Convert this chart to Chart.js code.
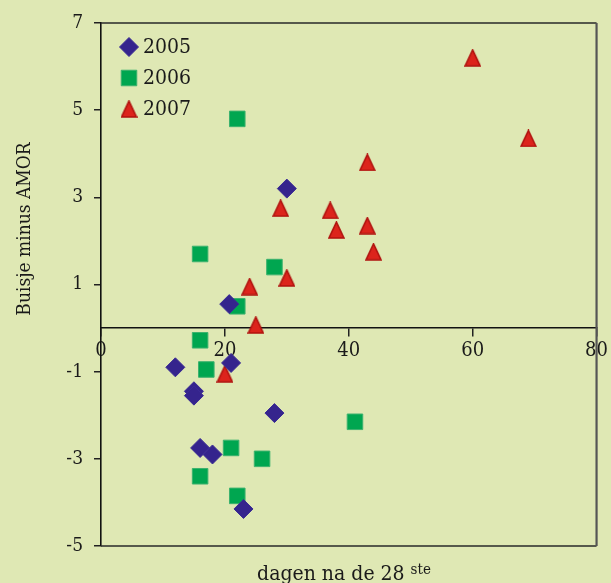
<!DOCTYPE html>
<html>
<head>
<meta charset="utf-8">
<script src="https://cdn.jsdelivr.net/npm/chart.js@4"></script>
<style>
    html, body { margin: 0; padding: 0; background: #dfe8b4; }
    #wrap { width: 611px; height: 583px; }
</style>
</head>
<body>
<div id="wrap"><canvas id="scatterChart" width="611" height="583"></canvas></div>
<script>
// dagen na de 28ste / Buisje minus AMOR
const labels2005 = "2005";
const labels2006 = "2006";
const labels2007 = "2007";

const days2005 = [20.7, 30, 12, 21, 15, 15, 28, 16, 18, 23];
const vals2005 = [0.55, 3.2, -0.9, -0.8, -1.45, -1.55, -1.95, -2.75, -2.9, -4.15];

const days2006 = [22, 16, 28, 22, 16, 17, 21, 26, 16, 22, 41];
const vals2006 = [4.8, 1.7, 1.4, 0.5, -0.28, -0.95, -2.75, -3.0, -3.4, -3.85, -2.15];

const days2007 = [60, 69, 43, 37, 38, 43, 44, 29, 30, 24, 25, 20];
const vals2007 = [6.2, 4.35, 3.8, 2.7, 2.25, 2.35, 1.75, 2.75, 1.15, 0.95, 0.07, -1.05];

const xTicks = [0, 20, 40, 60, 80];
const yTicks = [-5, -3, -1, 1, 3, 5, 7];

const FONT = '"DejaVu Serif Condensed", "DejaVu Serif", serif';
const INK = "#1a1a1a";

function toPoints(xs, ys) {
    return xs.map((x, i) => ({ x: x, y: ys[i] }));
}

// triangle marker (a bit taller than equilateral)
function makeTriangle() {
    const c = document.createElement("canvas");
    c.width = 17;
    c.height = 18;
    const g = c.getContext("2d");
    g.beginPath();
    g.moveTo(8.5, 1);
    g.lineTo(16, 17);
    g.lineTo(1, 17);
    g.closePath();
    g.fillStyle = "#dc241c";
    g.fill();
    g.lineWidth = 1.6;
    g.strokeStyle = "#b0120e";
    g.stroke();
    return c;
}
const triangleImg = makeTriangle();

// =========================
// BACKGROUND, FRAME, TITLES, LEGEND
// =========================
const decorPlugin = {
    id: "decor",
    beforeDraw(chart) {
        const ctx = chart.ctx;
        ctx.save();
        ctx.fillStyle = "#dfe8b4";
        ctx.fillRect(0, 0, chart.width, chart.height);
        ctx.restore();
    },
    beforeDatasetsDraw(chart) {
        const ctx = chart.ctx;
        const a = chart.chartArea;
        ctx.save();
        ctx.strokeStyle = "#2a2a2a";
        ctx.lineWidth = 1.6;
        ctx.beginPath();
        ctx.moveTo(a.left, a.top);
        ctx.lineTo(a.right, a.top);
        ctx.moveTo(a.left, a.bottom);
        ctx.lineTo(a.right, a.bottom);
        ctx.stroke();
        ctx.strokeStyle = "#555";
        ctx.lineWidth = 2.2;
        ctx.beginPath();
        ctx.moveTo(a.right, a.top);
        ctx.lineTo(a.right, a.bottom);
        ctx.stroke();
        ctx.restore();
    },
    afterDraw(chart) {
        const ctx = chart.ctx;
        ctx.save();
        ctx.fillStyle = INK;

        // y title
        ctx.translate(25, 229);
        ctx.rotate(-Math.PI / 2);
        ctx.font = "19px " + FONT;
        ctx.textAlign = "center";
        ctx.textBaseline = "middle";
        ctx.fillText("Buisje minus AMOR", 0, 0);
        ctx.setTransform(1, 0, 0, 1, 0, 0);

        // x title with superscript
        const main = "dagen na de 28 ";
        const sup = "ste";
        ctx.font = "21px " + FONT;
        const w1 = ctx.measureText(main).width;
        ctx.font = "15px " + FONT;
        const w2 = ctx.measureText(sup).width;
        const x0 = 344 - (w1 + w2) / 2;
        ctx.textAlign = "left";
        ctx.textBaseline = "alphabetic";
        ctx.font = "21px " + FONT;
        ctx.fillText(main, x0, 580);
        ctx.font = "15px " + FONT;
        ctx.fillText(sup, x0 + w1, 574);

        // legend
        const rows = [47, 78, 109];
        chart.data.datasets.forEach((ds, i) => {
            const y = rows[i];
            ctx.fillStyle = ds.backgroundColor;
            ctx.strokeStyle = ds.borderColor;
            ctx.lineWidth = ds.borderWidth;
            Chart.helpers.drawPoint(ctx, {
                pointStyle: ds.pointStyle,
                radius: ds.pointRadius,
                borderWidth: ds.borderWidth,
                rotation: 0
            }, 129, y);
            ctx.fillStyle = INK;
            ctx.font = "21px " + FONT;
            ctx.textBaseline = "middle";
            ctx.fillText(ds.label, 143, y + 1);
        });
        ctx.restore();
    }
};

new Chart(document.getElementById("scatterChart"), {
    type: "scatter",
    data: {
        datasets: [
            {
                label: labels2005,
                data: toPoints(days2005, vals2005),
                pointStyle: "rectRot",
                pointRadius: 9.5,
                backgroundColor: "#35248d",
                borderColor: "#3b2b95",
                borderWidth: 1
            },
            {
                label: labels2006,
                data: toPoints(days2006, vals2006),
                pointStyle: "rect",
                pointRadius: 11,
                backgroundColor: "#00a650",
                borderColor: "#3cb26e",
                borderWidth: 1
            },
            {
                label: labels2007,
                data: toPoints(days2007, vals2007),
                pointStyle: triangleImg,
                pointRadius: 9,
                backgroundColor: "#dc241c",
                borderColor: "#b0120e",
                borderWidth: 1.5
            }
        ]
    },
    options: {
        responsive: false,
        animation: false,
        events: [],
        layout: {
            padding: { left: 0, right: 14, top: 23, bottom: 37 }
        },
        plugins: {
            legend: { display: false },
            tooltip: { enabled: false }
        },
        scales: {
            x: {
                type: "linear",
                position: { y: 0 },
                min: 0,
                max: 80,
                afterBuildTicks: s => { s.ticks = xTicks.map(v => ({ value: v })); },
                grid: {
                    drawOnChartArea: false,
                    drawTicks: true,
                    tickLength: 8,
                    color: "#222",
                    lineWidth: 1.5
                },
                border: { color: "#111", width: 1.6 },
                ticks: {
                    color: INK,
                    padding: 3,
                    maxRotation: 0,
                    font: { family: FONT, size: 20 }
                }
            },
            y: {
                type: "linear",
                min: -5,
                max: 7,
                afterBuildTicks: s => { s.ticks = yTicks.map(v => ({ value: v })); },
                afterFit: s => { s.width = 101; },
                grid: {
                    drawOnChartArea: false,
                    drawTicks: true,
                    tickLength: 7,
                    color: "#222",
                    lineWidth: 1.5
                },
                border: { color: "#111", width: 1.6 },
                ticks: {
                    color: INK,
                    padding: 11,
                    font: { family: FONT, size: 19 }
                }
            }
        }
    },
    plugins: [decorPlugin]
});
</script>
</body>
</html>
